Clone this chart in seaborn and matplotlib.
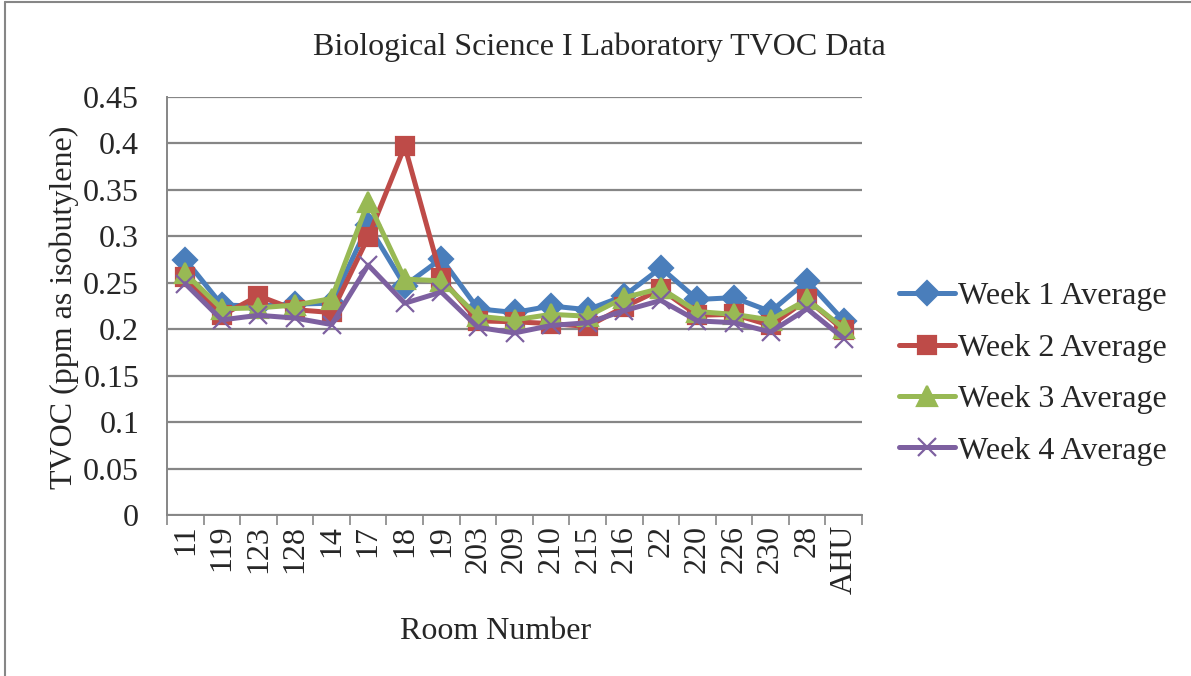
import matplotlib
matplotlib.use("Agg")
import matplotlib.pyplot as plt
from matplotlib.lines import Line2D
import numpy as np
import pandas as pd
import seaborn as sns

# Chart data
rooms = ["11", "119", "123", "128", "14", "17", "18", "19", "203", "209",
         "210", "215", "216", "22", "220", "226", "230", "28", "AHU"]
week1 = [0.275, 0.226, 0.225, 0.227, 0.228, 0.312, 0.247, 0.276, 0.222, 0.218,
         0.225, 0.221, 0.236, 0.266, 0.232, 0.234, 0.219, 0.252, 0.209]
week2 = [0.256, 0.215, 0.236, 0.221, 0.218, 0.299, 0.397, 0.255, 0.209, 0.208,
         0.206, 0.203, 0.224, 0.243, 0.215, 0.216, 0.204, 0.232, 0.199]
week3 = [0.260, 0.222, 0.223, 0.226, 0.233, 0.337, 0.254, 0.252, 0.214, 0.210,
         0.216, 0.214, 0.234, 0.244, 0.219, 0.216, 0.210, 0.232, 0.201]
week4 = [0.249, 0.210, 0.215, 0.212, 0.205, 0.269, 0.228, 0.240, 0.202, 0.196,
         0.204, 0.207, 0.220, 0.231, 0.209, 0.207, 0.197, 0.222, 0.190]
series_names = ["Week 1 Average", "Week 2 Average", "Week 3 Average", "Week 4 Average"]

colors = ["#4A7EBB", "#BE4B48", "#98B954", "#7D60A0"]
markers = ["D", "s", "^", "x"]
msizes = [12, 13, 14, 13]
FS = 23

sns.set_style("white")
plt.rcParams["font.family"] = ["Liberation Serif", "DejaVu Serif"]

fig = plt.figure(figsize=(11.91, 6.76), dpi=100)
ax = fig.add_axes([0.1402, 0.2382, 0.5836, 0.6183])

for vals, name, c, m, ms in zip([week1, week2, week3, week4], series_names,
                                colors, markers, msizes):
    d = pd.DataFrame({"room": rooms, "tvoc": vals})
    sns.lineplot(data=d, x="room", y="tvoc", color=c, marker=m, markersize=ms,
                 markeredgecolor=c, markerfacecolor=c, markeredgewidth=1.6,
                 linewidth=3.6, sort=False, ax=ax, label=name, legend=False)

ax.set_xlim(-0.5, len(rooms) - 0.5)
ax.set_ylim(0, 0.45)
ax.set_yticks(np.arange(0, 0.451, 0.05))
ax.set_yticklabels(["0", "0.05", "0.1", "0.15", "0.2", "0.25", "0.3",
                    "0.35", "0.4", "0.45"])
ax.set_xticks(range(len(rooms)))
ax.set_xticklabels(rooms, rotation=90)
ax.set_xticks(np.arange(-0.5, len(rooms), 1.0), minor=True)
ax.tick_params(axis="x", which="major", length=0, pad=7, labelsize=FS)
ax.tick_params(axis="x", which="minor", length=7, width=1.2,
               direction="out", color="#868686", bottom=True)
ax.tick_params(axis="y", length=14, width=1.2, direction="inout",
               color="#868686", labelsize=FS, pad=13)

ax.yaxis.grid(True, color="#868686", linewidth=1.6)
ax.xaxis.grid(False)
ax.set_axisbelow(True)
for side in ["top", "right"]:
    ax.spines[side].set_visible(False)
for side in ["left", "bottom"]:
    ax.spines[side].set_color("#868686")
    ax.spines[side].set_linewidth(1.4)

fig.text(0.503, 0.93, "Biological Science I Laboratory TVOC Data",
         fontsize=FS, ha="center", va="center")
ax.set_xlabel("Room Number", fontsize=FS)
ax.xaxis.set_label_coords(0.473, -0.245)
ax.set_ylabel("TVOC (ppm as isobutylene)", fontsize=FS)
ax.yaxis.set_label_coords(-0.126, 0.498)

handles = [Line2D([0], [0], color=c, marker=m, linewidth=3.6, markersize=ms,
                  markeredgecolor=c, markeredgewidth=1.6)
           for c, m, ms in zip(colors, markers, msizes)]
fig.legend(handles, series_names, loc="center left",
           bbox_to_anchor=(0.755, 0.447), frameon=False, fontsize=FS,
           handlelength=1.75, handletextpad=0.1, labelspacing=0.69,
           borderaxespad=0, borderpad=0)

# chart border (left and top visible in the reference)
fig.add_artist(Line2D([0.004, 0.004], [0.0, 0.997], color="#868686",
                      linewidth=1.5, transform=fig.transFigure))
fig.add_artist(Line2D([0.004, 1.0], [0.997, 0.997], color="#868686",
                      linewidth=1.5, transform=fig.transFigure))

fig.savefig("out.png", dpi=100)
